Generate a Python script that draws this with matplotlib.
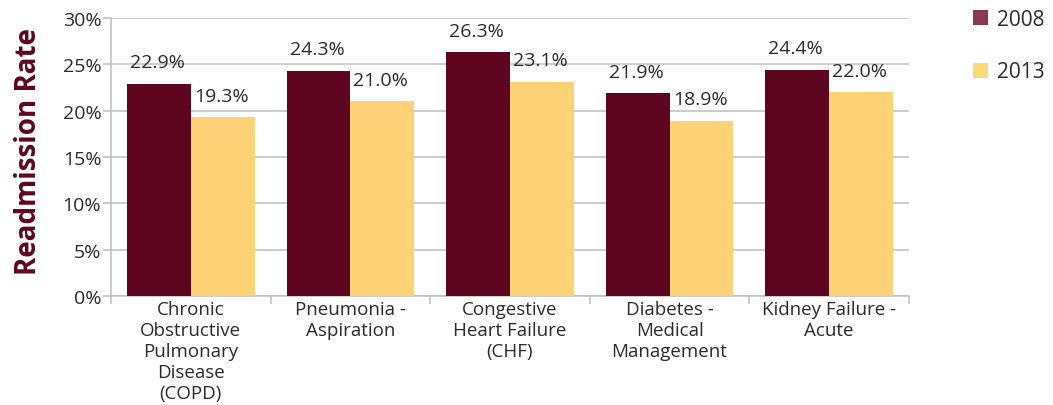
import matplotlib
matplotlib.use("Agg")
import matplotlib.pyplot as plt
import numpy as np
from matplotlib.patches import Patch

categories = ["Chronic\nObstructive\nPulmonary\nDisease\n(COPD)", "Pneumonia -\nAspiration",
              "Congestive\nHeart Failure\n(CHF)", "Diabetes -\nMedical\nManagement",
              "Kidney Failure -\nAcute"]
series_names = ["2008", "2013"]
rate_2008 = [22.9, 24.3, 26.3, 21.9, 24.4]
rate_2013 = [19.3, 21.0, 23.1, 18.9, 22.0]
yticks = [0, 5, 10, 15, 20, 25, 30]

plt.rcParams['font.family'] = ['Open Sans', 'DejaVu Sans']

fig = plt.figure(figsize=(10.53, 4.06), dpi=100)
ax = fig.add_axes([0.1054, 0.2685, 0.7578, 0.6847])

c08 = "#5E0620"
c13 = "#FDD276"
text_c = "#2b2b2b"
grid_c = "#BFBFBF"

x = np.arange(len(categories))
w = 0.4
b1 = ax.bar(x - w / 2, rate_2008, w, color=c08, zorder=3)
b2 = ax.bar(x + w / 2, rate_2013, w, color=c13, zorder=3)

for bars, vals in ((b1, rate_2008), (b2, rate_2013)):
    for r, v in zip(bars, vals):
        ax.annotate(f"{v:.1f}%", (r.get_x() + r.get_width() / 2, v),
                    xytext=(-1, 9), textcoords="offset points",
                    ha="center", va="bottom", fontsize=14, color=text_c)

ax.set_xlim(-0.5, len(categories) - 0.5)
ax.set_ylim(0, 30)
ax.set_yticks(yticks)
ax.set_yticklabels([f"{t}%" for t in yticks], fontsize=14, color=text_c)
ax.yaxis.grid(True, color=grid_c, linewidth=1.1, zorder=0)
ax.set_axisbelow(True)

ax.set_xticks(np.arange(-0.5, len(categories)), minor=False)
ax.set_xticklabels([])
ax.set_xticks(x, minor=True)
ax.set_xticklabels(categories, minor=True, fontsize=13.5, color=text_c, linespacing=1.22)
ax.tick_params(axis="x", which="minor", length=0, pad=3)
ax.tick_params(axis="x", which="major", length=6, color=grid_c, width=1.1)
ax.tick_params(axis="y", length=6, color=grid_c, width=1.1, pad=1)

for s in ("top", "right"):
    ax.spines[s].set_visible(False)
for s in ("left", "bottom"):
    ax.spines[s].set_color(grid_c)
    ax.spines[s].set_linewidth(1.1)

fig.text(0.027, 0.626, "Readmission Rate", rotation=90, ha="center", va="center",
         fontsize=20, fontweight="bold", color="#5E0620")

handles = [Patch(facecolor="#8B3A52", edgecolor="none"),
           Patch(facecolor="#FDD97A", edgecolor="none")]
fig.legend(handles, series_names, loc="upper left", bbox_to_anchor=(0.924, 0.975),
           frameon=False, fontsize=15, handlelength=0.72, handleheight=0.72,
           labelspacing=1.5, handletextpad=0.45, borderpad=0, borderaxespad=0,
           labelcolor=text_c)

fig.savefig("out.png", dpi=100)
